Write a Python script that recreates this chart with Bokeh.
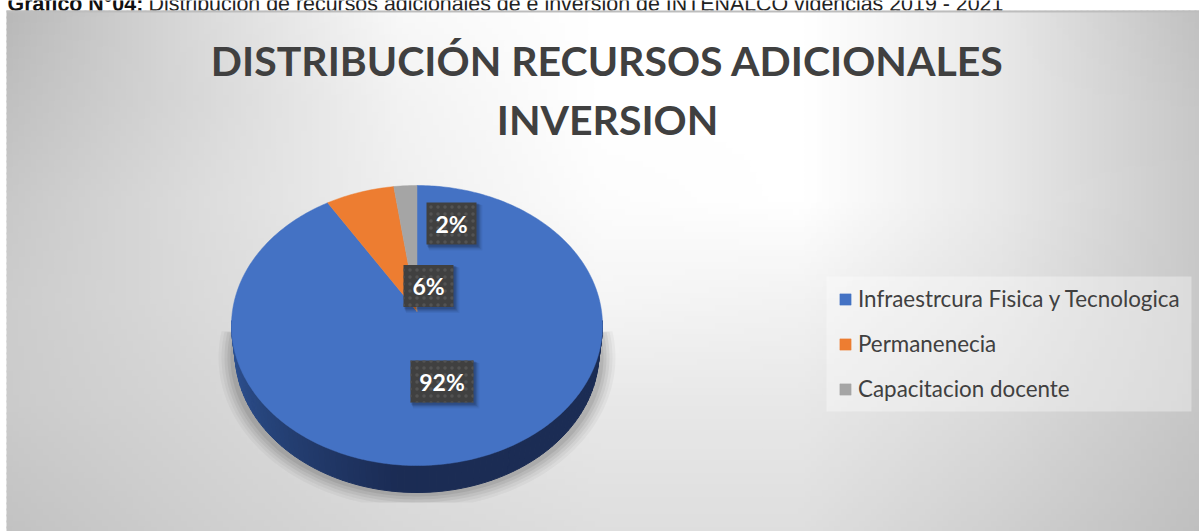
import numpy as np
from bokeh.core.properties import value
from bokeh.embed import file_html
from bokeh.models import ColumnDataSource, Legend, LegendItem, Range1d
from bokeh.plotting import figure
from bokeh.resources import INLINE

# ---- chart content ----
categories = ["Infraestrcura Fisica y Tecnologica", "Permanenecia", "Capacitacion docente"]
shares = [92, 6, 2]
slice_colors = ["#4472c4", "#ed7d31", "#a5a5a5"]
title_lines = ["DISTRIBUCIÓN RECURSOS ADICIONALES", "INVERSION"]
caption_bold = "Gráfico N°04:"
caption_text = "Distribución de recursos adicionales de e inversión de INTENALCO vigencias 2019 - 2021"

# background greys (rows top to bottom, columns left to right)
bg_x = [6, 200, 400, 600, 800, 1000, 1199]
bg_y = [10, 100, 200, 300, 400, 531]
bg_grey = [
    [0xb8, 0xda, 0xf8, 0xff, 0xff, 0xe8, 0xc0],
    [0xc0, 0xd8, 0xf2, 0xff, 0xff, 0xe8, 0xc6],
    [0xc8, 0xdc, 0xef, 0xfc, 0xff, 0xe8, 0xc8],
    [0xcc, 0xda, 0xe8, 0xf5, 0xf2, 0xe2, 0xc8],
    [0xcb, 0xd5, 0xe0, 0xe8, 0xe8, 0xda, 0xc6],
    [0xc2, 0xce, 0xd8, 0xde, 0xde, 0xcf, 0xbf],
]

# data-label boxes: centre x, centre y, box width
label_cx = [451, 428, 441.5]
label_cy = [223, 285.5, 381]
label_w = [50, 50, 63]
label_texts = ["2%", "6%", "92%"]

W, H = 1199, 531
CX, CY, RX, RY = 416.5, 325.0, 185.5, 140.0
APEX_Y = 311.0
WALL_CY, WALL_RX = 352.0, 182.0

p = figure(width=W, height=H, output_backend="svg", toolbar_location=None,
           x_range=Range1d(0, W), y_range=Range1d(H, 0), min_border=0,
           outline_line_color=None, background_fill_color="white",
           styles={"position": "absolute", "left": "0", "top": "0"})
p.axis.visible = False
p.grid.visible = False

# caption, cut by the top of the page
p.text([7], [3.5], text=[caption_bold], text_font=value("Liberation Sans"), text_font_style="bold",
       text_font_size="21.4px", text_color="#111111", text_baseline="alphabetic")
p.text([148], [3.5], text=[caption_text], text_font=value("Liberation Sans"),
       text_font_size="21.4px", text_color="#222222", text_baseline="alphabetic")

# background: small cells whose grey is interpolated between the readings above
CELL = 6
OVERLAP = 2
grey = np.array(bg_grey, dtype=float)
edges_x = np.r_[np.arange(bg_x[0], W, CELL), W]
edges_y = np.r_[np.arange(bg_y[0], H, CELL), H]
mx = (edges_x[:-1] + edges_x[1:]) / 2
my = (edges_y[:-1] + edges_y[1:]) / 2
rows = np.array([np.interp(mx, bg_x, r) for r in grey])
field = np.array([np.interp(my, bg_y, rows[:, i]) for i in range(len(mx))]).T
L, T = np.meshgrid(edges_x[:-1], edges_y[:-1])
RR, BB = np.meshgrid(edges_x[1:], edges_y[1:])
cols = ["#%02x%02x%02x" % (int(v), int(v), int(v)) for v in field.round().ravel()]
p.quad(left=L.ravel(), right=RR.ravel() + OVERLAP, top=T.ravel(), bottom=BB.ravel() + OVERLAP,
       fill_color=cols, line_color=None)
p.quad(left=[bg_x[0]], right=[W], top=[bg_y[0]], bottom=[bg_y[0] + 2], fill_color="#bdbdbd", line_color=None)

# legend panel
p.quad(left=[826], right=[1191], top=[276], bottom=[411], fill_color="white", fill_alpha=.35, line_color=None)

# soft shadow under the pie
clip_y = 502
t = np.radians(np.linspace(-100, 100, 161))
for grow, alpha in [(14, .035), (11, .04), (8, .05), (5, .06), (2, .07)]:
    sx = CX + (RX - 1 + grow) * np.sin(t)
    sy = np.minimum(WALL_CY + 5 + (RY + grow - 3) * np.cos(t), clip_y)
    p.patch(sx, sy, fill_color="black", fill_alpha=alpha, line_color=None)

# side wall, dark towards the lower right
steps = np.radians(np.linspace(-92, 92, 93))
dark, mid = np.array([0x1b, 0x2c, 0x54]), np.array([0x2f, 0x55, 0x97])
wall_xs, wall_ys, wall_cols = [], [], []
for a, b in zip(steps[:-1], steps[1:]):
    wall_xs.append([CX + RX * np.sin(a), CX + RX * np.sin(b), CX + WALL_RX * np.sin(b), CX + WALL_RX * np.sin(a)])
    wall_ys.append([CY + RY * np.cos(a), CY + RY * np.cos(b), WALL_CY + RY * np.cos(b), WALL_CY + RY * np.cos(a)])
    m = (a + b) / 2
    f = np.clip((m + np.radians(5)) / np.radians(-85), 0, 1)
    c = dark + (mid - dark) * f
    wall_cols.append("#%02x%02x%02x" % tuple(int(v) for v in c))
p.patches(xs="x", ys="y", fill_color="c", line_color="c", line_width=1,
          source=ColumnDataSource(dict(x=wall_xs, y=wall_ys, c=wall_cols)))

# top face: one slice per value, clockwise from twelve o'clock
items = []
start = 0.0
total = sum(shares)
for name, share, col in zip(categories, shares, slice_colors):
    stop = start + share / total * 2 * np.pi
    arc = np.linspace(start, stop, max(8, int(share * 4)))
    r = p.patch(np.r_[CX, CX + RX * np.sin(arc)], np.r_[APEX_Y, CY - RY * np.cos(arc)],
                fill_color=col, line_color=col, line_width=0.5)
    items.append(LegendItem(label=name, renderers=[r]))
    start = stop

# data labels
lh = 42
lx = np.array(label_cx)
ly = np.array(label_cy)
lw = np.array(label_w)
for d, alpha in [(7, .05), (5.5, .07), (4, .1), (2.5, .14)]:
    p.rect(lx + d * .6, ly + d * .6, width=lw + d * .5, height=lh + d * .5, fill_color="black",
           fill_alpha=alpha, line_color=None)
p.rect(lx, ly, width=lw, height=lh, fill_color="#404040", line_color=None,
       hatch_pattern="dot", hatch_color="#535353", hatch_scale=7, hatch_weight=1)
p.text(lx, ly, text=label_texts, text_font=value("Lato"), text_font_style="bold",
       text_font_size="23px", text_color="white", text_align="center", text_baseline="middle")

# title
for line, base in zip(title_lines, [60, 119]):
    p.text([607], [base], text=[line], text_font=value("Lato"), text_font_style="bold",
           text_font_size="41px", text_color="#404040", text_align="center", text_baseline="alphabetic")

# legend
legend = Legend(items=items, location=(838, 129), orientation="vertical", margin=0, padding=0,
                spacing=18, glyph_width=14, glyph_height=14, label_standoff=6, label_height=21,
                label_text_font="Lato", label_text_font_size="22.4px", label_text_color="#404040",
                background_fill_alpha=0, border_line_color=None)
p.add_layout(legend, "center")

open("out.html", "w").write(file_html(p, INLINE))
